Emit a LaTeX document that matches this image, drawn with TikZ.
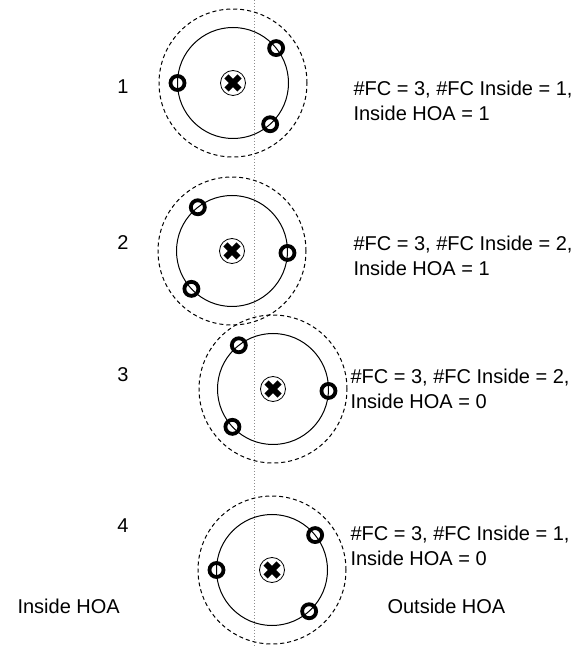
\documentclass[tikz,border=0pt]{standalone}
\usepackage{fontspec}
\setmainfont{Liberation Sans}
\usetikzlibrary{positioning}
\definecolor{dotgray}{HTML}{8C8C8C}

\begin{document}
\begin{tikzpicture}[x=1pt,y=1pt,
  hoa/.style={
    circle, draw=black, dash pattern=on 4pt off 3pt, line width=1pt,
    minimum size=148pt, inner sep=0pt, outer sep=0pt
  },
  ring/.style={
    circle, draw=black, line width=1pt,
    minimum size=111pt, inner sep=0pt, outer sep=0pt
  },
  cent/.style={
    circle, draw=black, line width=0.8pt, minimum size=25pt, inner sep=0pt
  },
  fc/.style={
    circle, draw=black, line width=3.8pt, minimum size=14pt, inner sep=0pt
  },
  xmark/.style={line width=6pt},
  num/.style={font=\fontsize{20}{24}\selectfont},
  info/.style={anchor=west, align=left, font=\fontsize{20}{25}\selectfont},
  side/.style={anchor=west, font=\fontsize{20}{24}\selectfont},
  axis/.style={draw=dotgray, line width=0.9pt, dash pattern=on 1pt off 2pt}
]
\useasboundingbox (0,0) rectangle (578,646);

% dividing line
\coordinate (top) at (254,646);
\coordinate (bot) at (254,0);
\draw[axis] (top) -- (bot);

% case 1
\node[hoa] (h1) at (233,563) {};
\node[ring] (r1) at (h1) {};
\node[cent] (c1) at (h1) {};
\node[fc] (f1a) at (r1.39) {};
\node[fc] (f1b) at (r1.180) {};
\node[fc] (f1c) at (r1.-48) {};
\node[num] (n1) at (123,559) {1};
\node[info] (t1) at (350,545.5) {\#FC = 3, \#FC Inside = 1,\\Inside HOA = 1};

% case 2
\node[hoa] (h2) at (232,395) {};
\node[ring] (r2) at (h2) {};
\node[cent] (c2) at (h2) {};
\node[fc] (f2a) at (r2.128) {};
\node[fc] (f2b) at (r2.-2) {};
\node[fc] (f2c) at (r2.223) {};
\node[num] (n2) at (123,403) {2};
\node[info] (t2) at (350,390.5) {\#FC = 3, \#FC Inside = 2,\\Inside HOA = 1};

% case 3
\node[hoa] (h3) at (273,257) {};
\node[ring] (r3) at (h3) {};
\node[cent] (c3) at (h3) {};
\node[fc] (f3a) at (r3.128) {};
\node[fc] (f3b) at (r3.-2) {};
\node[fc] (f3c) at (r3.223) {};
\node[num] (n3) at (123,271) {3};
\node[info] (t3) at (347,257) {\#FC = 3, \#FC Inside = 2,\\Inside HOA = 0};

% case 4
\node[hoa] (h4) at (272,76) {};
\node[ring] (r4) at (h4) {};
\node[cent] (c4) at (h4) {};
\node[fc] (f4a) at (r4.39) {};
\node[fc] (f4b) at (r4.180) {};
\node[fc] (f4c) at (r4.-48) {};
\node[num] (n4) at (123,120) {4};
\node[info] (t4) at (347,100.5) {\#FC = 3, \#FC Inside = 1,\\Inside HOA = 0};

% crosses
\foreach \c in {c1,c2,c3,c4}
  \draw[xmark] (\c) +(-6.5,-6.5) -- +(6.5,6.5) (\c) +(-6.5,6.5) -- +(6.5,-6.5);

\node[side] (inl) at (14,40) {Inside HOA};
\node[side] (outl) at (384,40) {Outside HOA};
\end{tikzpicture}
\end{document}
